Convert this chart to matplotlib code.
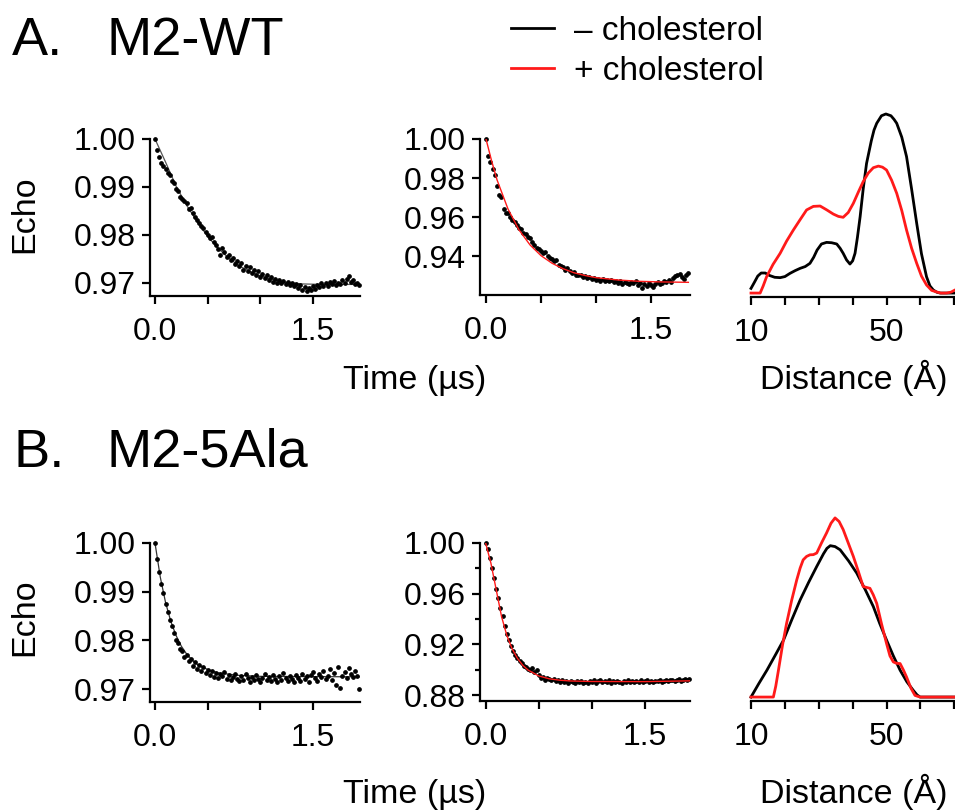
import numpy as np
import matplotlib
matplotlib.use("Agg")
import matplotlib.pyplot as plt
from matplotlib.ticker import FixedLocator

plt.rcParams['font.family'] = ['Liberation Sans', 'DejaVu Sans']

# ---------------- data ----------------
time_grid = [0.00, 0.02, 0.04, 0.06, 0.08, 0.10, 0.12, 0.14, 0.16, 0.18,
             0.20, 0.22, 0.24, 0.26, 0.28, 0.30, 0.32, 0.34, 0.36, 0.38,
             0.40, 0.42, 0.44, 0.46, 0.48, 0.50, 0.52, 0.54, 0.56, 0.58,
             0.60, 0.62, 0.64, 0.66, 0.68, 0.70, 0.72, 0.74, 0.76, 0.78,
             0.80, 0.82, 0.84, 0.86, 0.88, 0.90, 0.92, 0.94, 0.96, 0.98,
             1.00, 1.02, 1.04, 1.06, 1.08, 1.10, 1.12, 1.14, 1.16, 1.18,
             1.20, 1.22, 1.24, 1.26, 1.28, 1.30, 1.32, 1.34, 1.36, 1.38,
             1.40, 1.42, 1.44, 1.46, 1.48, 1.50, 1.52, 1.54, 1.56, 1.58,
             1.60, 1.62, 1.64, 1.66, 1.68, 1.70, 1.72, 1.74, 1.76, 1.78,
             1.80, 1.82, 1.84, 1.86, 1.88, 1.90, 1.92, 1.94]

# A: M2-WT, - cholesterol (echo data)
wt_minus_echo = [1.0000, 0.9978, 0.9962, 0.9950, 0.9944, 0.9938, 0.9930, 0.9925, 0.9912, 0.9908,
                 0.9896, 0.9892, 0.9880, 0.9876, 0.9870, 0.9866, 0.9855, 0.9857, 0.9845, 0.9838,
                 0.9832, 0.9826, 0.9818, 0.9815, 0.9806, 0.9800, 0.9794, 0.9796, 0.9785, 0.9779,
                 0.9770, 0.9758, 0.9772, 0.9764, 0.9755, 0.9759, 0.9748, 0.9752, 0.9740, 0.9745,
                 0.9735, 0.9742, 0.9728, 0.9736, 0.9725, 0.9733, 0.9720, 0.9728, 0.9716, 0.9724,
                 0.9713, 0.9719, 0.9710, 0.9716, 0.9706, 0.9712, 0.9703, 0.9709, 0.9701, 0.9707,
                 0.9699, 0.9704, 0.9697, 0.9703, 0.9695, 0.9700, 0.9693, 0.9698, 0.9689, 0.9696,
                 0.9686, 0.9692, 0.9684, 0.9690, 0.9685, 0.9694, 0.9688, 0.9696, 0.9691, 0.9699,
                 0.9694, 0.9700, 0.9693, 0.9702, 0.9697, 0.9704, 0.9696, 0.9701, 0.9698, 0.9706,
                 0.9699, 0.9708, 0.9714, 0.9703, 0.9706, 0.9698, 0.9701, 0.9695]
wt_minus_fit_t = [0.0, 0.1, 0.2, 0.3, 0.4, 0.5, 0.6, 0.7, 0.8, 0.9, 1.0, 1.1, 1.2, 1.3, 1.4, 1.6, 1.94]
wt_minus_fit = [1.0000, 0.9952, 0.9902, 0.9862, 0.9828, 0.9797, 0.9772, 0.9752, 0.9736, 0.9724,
                0.9715, 0.9708, 0.9703, 0.9700, 0.9698, 0.9697, 0.9697]

# A: M2-WT, + cholesterol
wt_plus_echo = [1.0000, 0.9912, 0.9880, 0.9845, 0.9815, 0.9760, 0.9712, 0.9705, 0.9640, 0.9622,
                0.9618, 0.9600, 0.9585, 0.9575, 0.9560, 0.9545, 0.9538, 0.9520, 0.9512, 0.9495,
                0.9490, 0.9470, 0.9455, 0.9440, 0.9435, 0.9428, 0.9415, 0.9420, 0.9400, 0.9392,
                0.9385, 0.9372, 0.9378, 0.9355, 0.9350, 0.9345, 0.9330, 0.9338, 0.9322, 0.9315,
                0.9318, 0.9305, 0.9300, 0.9302, 0.9292, 0.9296, 0.9285, 0.9290, 0.9282, 0.9287,
                0.9279, 0.9284, 0.9274, 0.9280, 0.9272, 0.9277, 0.9270, 0.9275, 0.9268, 0.9273,
                0.9262, 0.9270, 0.9258, 0.9266, 0.9262, 0.9255, 0.9268, 0.9260, 0.9270, 0.9252,
                0.9262, 0.9236, 0.9255, 0.9248, 0.9262, 0.9250, 0.9240, 0.9258, 0.9266, 0.9255,
                0.9262, 0.9270, 0.9265, 0.9275, 0.9268, 0.9285, 0.9295, 0.9300, 0.9310, 0.9290,
                0.9282, 0.9300, 0.9315]
wt_plus_fit_t = [0.0, 0.05, 0.1, 0.2, 0.3, 0.4, 0.5, 0.6, 0.7, 0.8, 0.9, 1.0, 1.2, 1.4, 1.6, 1.84]
wt_plus_fit = [1.0000, 0.9890, 0.9791, 0.9641, 0.9534, 0.9457, 0.9402, 0.9363, 0.9335, 0.9314,
               0.9300, 0.9289, 0.9277, 0.9270, 0.9267, 0.9265]

# B: M2-5Ala, - cholesterol
ala_minus_echo = [1.0000, 0.9968, 0.9940, 0.9915, 0.9898, 0.9875, 0.9858, 0.9842, 0.9830, 0.9815,
                  0.9800, 0.9795, 0.9782, 0.9778, 0.9765, 0.9770, 0.9758, 0.9762, 0.9748, 0.9755,
                  0.9742, 0.9750, 0.9738, 0.9745, 0.9732, 0.9740, 0.9728, 0.9736, 0.9725, 0.9733,
                  0.9722, 0.9730, 0.9726, 0.9734, 0.9721, 0.9728, 0.9718, 0.9724, 0.9730, 0.9720,
                  0.9716, 0.9726, 0.9719, 0.9731, 0.9722, 0.9715, 0.9724, 0.9718, 0.9728, 0.9720,
                  0.9714, 0.9722, 0.9730, 0.9718, 0.9725, 0.9716, 0.9728, 0.9721, 0.9715, 0.9726,
                  0.9719, 0.9732, 0.9722, 0.9716, 0.9727, 0.9720, 0.9714, 0.9729, 0.9723, 0.9717,
                  0.9731, 0.9720, 0.9726, 0.9715, 0.9728, 0.9735, 0.9722, 0.9716, 0.9730, 0.9724,
                  0.9738, 0.9721, 0.9727, 0.9742, 0.9718, 0.9732, 0.9708, 0.9745, 0.9702, 0.9726,
                  0.9735, 0.9722, 0.9744, 0.9730, 0.9725, 0.9738, 0.9726, 0.9699]
ala_minus_fit_t = [0.0, 0.05, 0.1, 0.15, 0.2, 0.25, 0.3, 0.35, 0.4, 0.5, 0.6, 0.8, 1.0, 1.94]
ala_minus_fit = [1.0000, 0.9930, 0.9878, 0.9839, 0.9810, 0.9788, 0.9772, 0.9760, 0.9751, 0.9740,
                 0.9733, 0.9728, 0.9726, 0.9725]

# B: M2-5Ala, + cholesterol
ala_plus_echo = [1.0000, 0.9950, 0.9880, 0.9800, 0.9720, 0.9640, 0.9565, 0.9490, 0.9420, 0.9345,
                 0.9280, 0.9235, 0.9190, 0.9150, 0.9118, 0.9090, 0.9068, 0.9055, 0.9030, 0.9018,
                 0.9008, 0.9000, 0.9015, 0.8985, 0.8995, 0.8962, 0.8935, 0.8945, 0.8922, 0.8938,
                 0.8930, 0.8915, 0.8925, 0.8908, 0.8920, 0.8905, 0.8916, 0.8900, 0.8912, 0.8898,
                 0.8910, 0.8902, 0.8895, 0.8908, 0.8900, 0.8912, 0.8897, 0.8905, 0.8895, 0.8910,
                 0.8902, 0.8916, 0.8898, 0.8907, 0.8920, 0.8900, 0.8912, 0.8904, 0.8918, 0.8899,
                 0.8910, 0.8902, 0.8914, 0.8906, 0.8898, 0.8911, 0.8903, 0.8916, 0.8905, 0.8910,
                 0.8900, 0.8912, 0.8906, 0.8915, 0.8903, 0.8910, 0.8917, 0.8905, 0.8912, 0.8902,
                 0.8914, 0.8908, 0.8918, 0.8905, 0.8913, 0.8920, 0.8910, 0.8916, 0.8922, 0.8912,
                 0.8918, 0.8925, 0.8912, 0.8920, 0.8928, 0.8918, 0.8925]
ala_plus_fit_t = [0.0, 0.05, 0.1, 0.15, 0.2, 0.25, 0.3, 0.35, 0.4, 0.5, 0.6, 0.7, 0.8, 1.0, 1.5, 1.92]
ala_plus_fit = [1.0000, 0.9840, 0.9630, 0.9419, 0.9270, 0.9164, 0.9089, 0.9035, 0.8997, 0.8951,
                0.8928, 0.8917, 0.8911, 0.8907, 0.8906, 0.8912]

# Distance distributions (normalized)
wt_minus_d = [10.0, 11.0, 12.0, 13.0, 14.2, 15.5, 17.0, 18.6, 20.0, 21.5, 23.0, 24.5, 26.0, 27.4,
              28.5, 29.5, 30.8, 32.3, 33.8, 35.3, 36.3, 37.2, 38.2, 39.2, 40.0, 40.7, 41.4, 42.2,
              43.1, 44.1, 45.5, 46.3, 47.1, 48.5, 49.8, 51.3, 52.2, 53.0, 54.5, 55.9, 57.4, 58.9,
              60.3, 61.8, 62.8, 63.8, 64.8, 65.8, 70.2]
wt_minus_p = [0.026, 0.060, 0.095, 0.112, 0.112, 0.098, 0.088, 0.086, 0.092, 0.110, 0.125, 0.138,
              0.148, 0.166, 0.200, 0.240, 0.274, 0.283, 0.281, 0.274, 0.250, 0.222, 0.185, 0.162,
              0.180, 0.222, 0.310, 0.426, 0.580, 0.724, 0.850, 0.910, 0.948, 0.990, 1.000, 0.990,
              0.970, 0.948, 0.870, 0.762, 0.580, 0.389, 0.220, 0.091, 0.040, 0.017, 0.005, 0.000,
              0.000]
wt_plus_d = [10.0, 12.7, 13.6, 14.6, 16.5, 18.6, 20.5, 22.5, 24.5, 26.4, 28.4, 30.4, 32.3, 34.3,
             35.8, 37.2, 38.7, 40.2, 41.7, 43.1, 44.6, 46.1, 47.6, 48.8, 50.0, 51.5, 53.0, 54.5,
             55.9, 57.4, 58.9, 60.3, 61.8, 63.3, 64.8, 66.0, 67.7, 69.0, 70.2]
wt_plus_p = [0.000, 0.000, 0.040, 0.091, 0.160, 0.222, 0.290, 0.352, 0.410, 0.464, 0.484, 0.486,
             0.465, 0.441, 0.428, 0.423, 0.450, 0.501, 0.565, 0.622, 0.670, 0.700, 0.709, 0.703,
             0.687, 0.630, 0.557, 0.460, 0.352, 0.250, 0.166, 0.095, 0.045, 0.015, 0.006, 0.000,
             0.000, 0.005, 0.017]
ala_minus_d = [10.0, 12.3, 14.7, 17.2, 19.6, 22.0, 24.5, 27.0, 29.4, 31.4, 32.4, 33.4, 34.8, 36.3,
               38.8, 41.2, 43.7, 46.1, 48.0, 50.0, 52.0, 54.0, 56.0, 57.9, 59.0, 59.9, 70.2]
ala_minus_p = [0.000, 0.075, 0.150, 0.235, 0.318, 0.430, 0.542, 0.640, 0.729, 0.800, 0.830, 0.845,
               0.840, 0.822, 0.760, 0.692, 0.600, 0.505, 0.410, 0.318, 0.230, 0.150, 0.085, 0.037,
               0.012, 0.000, 0.000]
ala_plus_d = [10.0, 16.6, 17.3, 18.1, 19.3, 20.5, 22.0, 23.5, 24.5, 25.4, 26.4, 27.4, 28.4, 29.4,
              30.8, 32.3, 33.6, 34.8, 36.0, 37.2, 38.7, 40.2, 41.7, 43.1, 44.1, 45.1, 46.1, 47.1,
              48.5, 50.0, 51.0, 52.0, 53.0, 54.0, 55.0, 55.9, 57.2, 58.4, 59.9, 70.2]
ala_plus_p = [0.000, 0.000, 0.060, 0.150, 0.290, 0.411, 0.540, 0.654, 0.720, 0.766, 0.785, 0.794,
              0.795, 0.804, 0.860, 0.916, 0.970, 1.000, 0.980, 0.935, 0.860, 0.785, 0.700, 0.617,
              0.612, 0.607, 0.570, 0.523, 0.410, 0.299, 0.230, 0.196, 0.188, 0.187, 0.150, 0.112,
              0.050, 0.009, 0.000, 0.000]

time_tick_labels = ['0.0', '', '', '1.5']
dist_tick_labels = ['10', '', '', '', '50', '', '']

RED = '#ff1a1a'
W, H = 955, 810

fig = plt.figure(figsize=(W / 100, H / 100), dpi=100)


def frac(left, top, right, bottom):
    return [left / W, (H - bottom) / H, (right - left) / W, (bottom - top) / H]


TICK_FS = 23
LW_AX = 1.6


def style_time(ax, xlim, ylim, yticks, yminor=None):
    for s in ['top', 'right']:
        ax.spines[s].set_visible(False)
    for s in ['left', 'bottom']:
        ax.spines[s].set_linewidth(LW_AX)
    ax.set_xlim(*xlim)
    ax.set_ylim(*ylim)
    ax.set_xticks([0.0, 0.5, 1.0, 1.5])
    ax.set_xticklabels(time_tick_labels)
    ax.set_yticks(yticks)
    ax.set_yticklabels(['%.2f' % v for v in yticks])
    if yminor is not None:
        ax.yaxis.set_minor_locator(FixedLocator(yminor))
    ax.tick_params(axis='both', which='major', direction='out', length=6, width=LW_AX,
                   labelsize=TICK_FS, color='black')
    ax.tick_params(axis='y', which='minor', direction='out', length=3.5, width=LW_AX)
    ax.tick_params(axis='x', which='major', pad=9)
    ax.tick_params(axis='y', which='major', pad=4)


def style_dist(ax, ylim):
    for s in ['top', 'right', 'left']:
        ax.spines[s].set_visible(False)
    ax.spines['bottom'].set_linewidth(LW_AX)
    ax.set_xlim(10, 70.2)
    ax.set_ylim(*ylim)
    ax.set_yticks([])
    ax.set_xticks([10, 20, 30, 40, 50, 60, 70])
    ax.set_xticklabels(dist_tick_labels)
    ax.tick_params(axis='x', direction='out', length=6, width=LW_AX, labelsize=TICK_FS, pad=9)


# ---- Row A ----
axA1 = fig.add_axes(frac(150, 139, 360, 296))
axA1.plot(time_grid, wt_minus_echo, 'o', ms=2.4, color='black', clip_on=False, zorder=3)
axA1.plot(wt_minus_fit_t, wt_minus_fit, '-', lw=0.9, color='#555555', zorder=2)
style_time(axA1, (-0.0475, 1.947), (0.96729, 1.0), [0.97, 0.98, 0.99, 1.00])

tA = time_grid[:93]
axA2 = fig.add_axes(frac(480, 139, 690, 295))
axA2.plot(tA, wt_plus_echo, 'o', ms=2.4, color='black', clip_on=False, zorder=2)
axA2.plot(wt_plus_fit_t, wt_plus_fit, '-', lw=1.0, color=RED, zorder=3)
style_time(axA2, (-0.0545, 1.855), (0.92, 1.0), [0.94, 0.96, 0.98, 1.00])

axA3 = fig.add_axes(frac(751, 100, 955, 297))
l_minus, = axA3.plot(wt_minus_d, wt_minus_p, '-', lw=2.0, color='black', clip_on=False,
                     solid_joinstyle='round')
l_plus, = axA3.plot(wt_plus_d, wt_plus_p, '-', lw=2.0, color=RED, clip_on=False,
                    solid_joinstyle='round')
style_dist(axA3, (-0.022, 1.078))

# ---- Row B ----
axB1 = fig.add_axes(frac(150, 543, 360, 702))
axB1.plot(time_grid, ala_minus_echo, 'o', ms=2.4, color='black', clip_on=False, zorder=3)
axB1.plot(ala_minus_fit_t, ala_minus_fit, '-', lw=0.9, color='#333333', zorder=2)
style_time(axB1, (-0.0475, 1.947), (0.96733, 1.0), [0.97, 0.98, 0.99, 1.00])

tB = time_grid[:97]
axB2 = fig.add_axes(frac(480, 543, 690, 701))
axB2.plot(tB, ala_plus_echo, 'o', ms=2.4, color='black', clip_on=False, zorder=2)
axB2.plot(ala_plus_fit_t, ala_plus_fit, '-', lw=1.0, color=RED, zorder=3)
style_time(axB2, (-0.053, 1.925), (0.8753, 1.0), [0.88, 0.92, 0.96, 1.00], [0.90, 0.94, 0.98])

axB3 = fig.add_axes(frac(751, 500, 955, 701))
axB3.plot(ala_minus_d, ala_minus_p, '-', lw=2.0, color='black', clip_on=False,
          solid_joinstyle='round')
axB3.plot(ala_plus_d, ala_plus_p, '-', lw=2.0, color=RED, clip_on=False,
          solid_joinstyle='round')
style_dist(axB3, (-0.022, 1.10))

# ---- texts ----
def ftext(x, y, s, **kw):
    fig.text(x / W, 1 - y / H, s, **kw)

ftext(12, 55, 'A.', fontsize=39, va='baseline', ha='left')
ftext(106, 55, 'M2-WT', fontsize=39, va='baseline', ha='left')
ftext(14, 467, 'B.', fontsize=39, va='baseline', ha='left')
ftext(106, 467, 'M2-5Ala', fontsize=39, va='baseline', ha='left')

ftext(25, 214, 'Echo', fontsize=24.5, rotation=90, ha='center', va='center')
ftext(25, 617, 'Echo', fontsize=24.5, rotation=90, ha='center', va='center')

ftext(415, 389, 'Time (µs)', fontsize=24.5, ha='center', va='baseline')
ftext(415, 803, 'Time (µs)', fontsize=24.5, ha='center', va='baseline')
ftext(854, 389, 'Distance (Å)', fontsize=24.5, ha='center', va='baseline')
ftext(854, 803, 'Distance (Å)', fontsize=24.5, ha='center', va='baseline')

fig.legend([l_minus, l_plus], ['– cholesterol', '+ cholesterol'],
           loc='upper left', bbox_to_anchor=(511 / W, 1 - 16 / H),
           frameon=False, fontsize=24, handlelength=1.3, handletextpad=0.6,
           labelspacing=0.26, borderpad=0, borderaxespad=0)

fig.savefig('out.png', dpi=100)
